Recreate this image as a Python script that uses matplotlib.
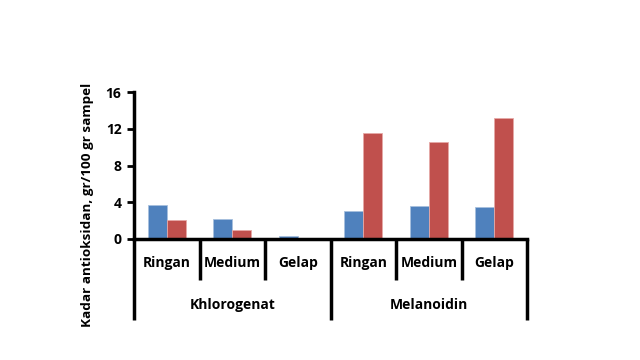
import matplotlib
matplotlib.use("Agg")
import matplotlib.pyplot as plt
import numpy as np
from matplotlib.lines import Line2D

categories = ["Ringan", "Medium", "Gelap", "Ringan", "Medium", "Gelap"]
groups = ["Khlorogenat", "Melanoidin"]
series1 = [3.7, 2.2, 0.3, 3.1, 3.55, 3.45]
series2 = [2.1, 1.0, 0.0, 11.5, 10.6, 13.2]
yticks = [0, 4, 8, 12, 16]
ylabel = "Kadar antioksidan, gr/100 gr sampel"

plt.rcParams['font.family'] = ['Open Sans', 'DejaVu Sans']

fig = plt.figure(figsize=(6.4, 3.6), dpi=100)
ax = fig.add_axes([134/640, 1-239/360, (527-134)/640, (239-92)/360])

x = np.arange(len(categories))
w = 0.29
ax.bar(x - w/2, series1, w, color="#4F81BD", edgecolor="#A7C0DE", linewidth=0.6)
ax.bar(x + w/2, series2, w, color="#C0504D", edgecolor="#E6A9A7", linewidth=0.6)

ax.set_xlim(-0.5, len(categories) - 0.5)
ax.set_ylim(0, 16)
ax.set_yticks(yticks)
ax.set_yticklabels([str(t) for t in yticks], fontsize=10, fontweight='bold')
ax.tick_params(axis='y', length=5, width=2, direction='out', pad=4)
ax.set_xticks([])
for s in ['top', 'right']:
    ax.spines[s].set_visible(False)
ax.spines['left'].set_linewidth(2.5)
ax.spines['bottom'].set_linewidth(2.5)

tr = ax.get_xaxis_transform()
ax_h = 239 - 92
short_y = -(280 - 239) / ax_h
long_y = -(320 - 239) / ax_h
cat_y = -(263 - 239) / ax_h
grp_y = -(305 - 239) / ax_h

seps = np.arange(len(categories) + 1) - 0.5
for i, s in enumerate(seps):
    bottom = long_y if i % 3 == 0 else short_y
    ax.add_line(Line2D([s, s], [0, bottom], transform=tr, color='black',
                       lw=2.5, clip_on=False, solid_capstyle='butt'))

for xi, c in zip(x, categories):
    ax.text(xi, cat_y, c, transform=tr, ha='center', va='center',
            fontsize=10, fontweight='bold')
for gi, g in enumerate(groups):
    ax.text(gi * 3 + 1, grp_y, g, transform=tr, ha='center', va='center',
            fontsize=10, fontweight='bold')

fig.text(88/640, 1 - 205/360, ylabel, rotation=90, ha='center', va='center',
         fontsize=9.7, fontweight='bold')

fig.savefig("out.png", dpi=100)
